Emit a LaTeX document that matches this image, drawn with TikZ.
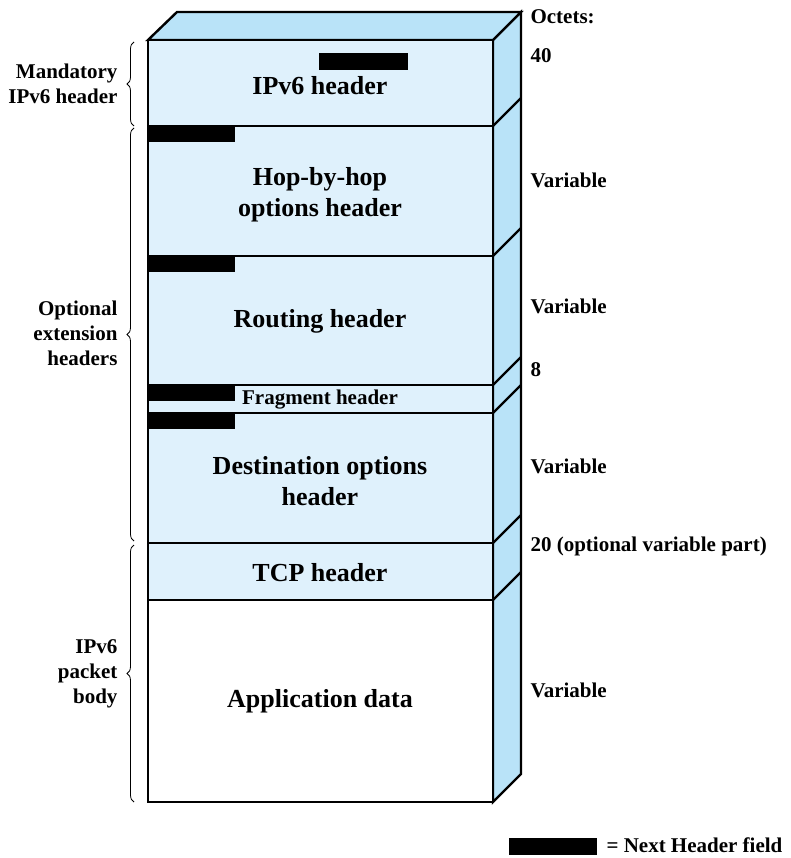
\documentclass[tikz,border=0pt]{standalone}
\usepackage{fontspec}
\setmainfont{Liberation Serif}
\usetikzlibrary{decorations.pathreplacing}
\definecolor{frontblue}{HTML}{DFF1FC}
\definecolor{sideblue}{HTML}{B9E3F8}
\begin{document}
\begin{tikzpicture}[x=1pt,y=-1pt,
  outline/.style={line width=2.4pt, line join=miter},
  nhf/.style={fill=black, draw=none},
  big/.style={font=\fontsize{26}{31}\selectfont\bfseries, align=center},
  small/.style={font=\fontsize{21}{25}\selectfont\bfseries},
  lbl/.style={small, align=right, anchor=east},
  oct/.style={small, anchor=west},
  brc/.style={decorate, decoration={brace, amplitude=7pt}, line width=0.8pt}]
\useasboundingbox (0,0) rectangle (790,858);
% side and top faces
\draw[outline, fill=sideblue] (493,40) -- (521,12) -- (521,774) -- (493,802) -- cycle;
\draw[outline, fill=sideblue] (148,40) -- (177,12) -- (521,12) -- (493,40) -- cycle;
\foreach \yy in {126,256,385,413,543,600}
  \draw[outline] (493,\yy) -- (521,\yy-28);
% front boxes
\draw[outline, fill=frontblue] (148,40) rectangle (493,126);
\draw[outline, fill=frontblue] (148,126) rectangle (493,256);
\draw[outline, fill=frontblue] (148,256) rectangle (493,385);
\draw[outline, fill=frontblue] (148,385) rectangle (493,413);
\draw[outline, fill=frontblue] (148,413) rectangle (493,543);
\draw[outline, fill=frontblue] (148,543) rectangle (493,600);
\draw[outline, fill=white] (148,600) rectangle (493,802);
% next header fields
\fill[nhf] (319,53) rectangle (408,70);
\fill[nhf] (148,126) rectangle (235,142);
\fill[nhf] (148,256) rectangle (235,272);
\fill[nhf] (148,385) rectangle (235,401);
\fill[nhf] (148,413) rectangle (235,429);
% box labels
\node[big] (ipv6) at (320,86) {IPv6 header};
\node[big] (hop) at (320,195) {Hop-by-hop\\options header};
\node[big] (rout) at (320,321) {Routing header};
\node[small] (frag) at (320,400) {Fragment header};
\node[big] (dest) at (320,481) {Destination options\\header};
\node[big] (tcp) at (320,573) {TCP header};
\node[big] (app) at (320,701) {Application data};
% octets
\node[oct] (octets) at (527,17) {Octets:};
\node[oct] (o40) at (527,56) {40};
\node[oct] (ovar1) at (527,180) {Variable};
\node[oct] (ovar2) at (527,306) {Variable};
\node[oct] (o8) at (527,370) {8};
\node[oct] (ovar3) at (527,466) {Variable};
\node[oct] (o20) at (527,546) {20 (optional variable part)};
\node[oct] (ovar4) at (527,690) {Variable};
% left braces and labels
\draw[brc] (134,126) -- (134,42);
\draw[brc] (134,541) -- (134,128);
\draw[brc] (134,802) -- (134,545);
\node[lbl] (mand) at (121,84) {Mandatory\\IPv6 header};
\node[lbl] (opt) at (121,333) {Optional\\extension\\headers};
\node[lbl] (body) at (121,674) {IPv6\\packet\\body};
% legend
\fill[nhf] (509,838) rectangle (597,855);
\node[small, anchor=west] (legend) at (603,845) {= Next Header field};
\end{tikzpicture}
\end{document}
